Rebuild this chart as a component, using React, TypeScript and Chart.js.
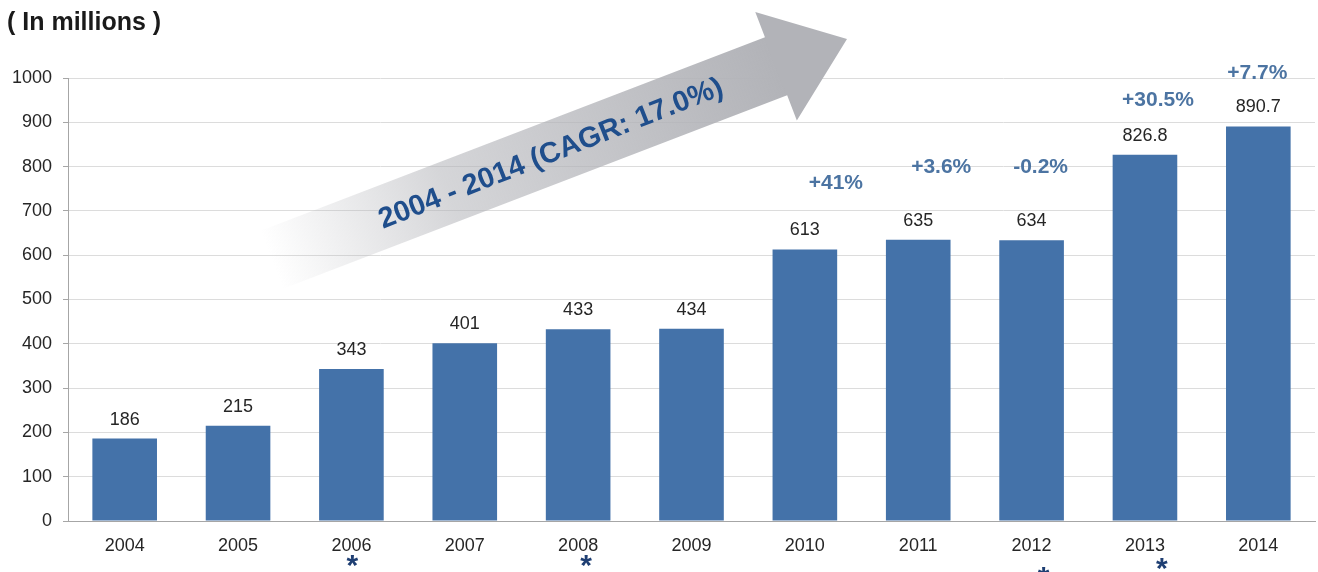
import React, { useEffect, useRef } from "react";
import { Chart, registerables } from "chart.js";

Chart.register(...registerables);

const years = ["2004", "2005", "2006", "2007", "2008", "2009", "2010", "2011", "2012", "2013", "2014"];
const values = [186, 215, 343, 401, 433, 434, 613, 635, 634, 826.8, 890.7];
const valueLabels = ["186", "215", "343", "401", "433", "434", "613", "635", "634", "826.8", "890.7"];
const growthYears = ["2010", "2011", "2012", "2013", "2014"];
const growthLabels = ["+41%", "+3.6%", "-0.2%", "+30.5%", "+7.7%"];
const starYears = ["2006", "2008", "2012", "2013"];
const yTicks = [0, 100, 200, 300, 400, 500, 600, 700, 800, 900, 1000];
const titleText = "( In millions )";
const cagrText = "2004 - 2014 (CAGR: 17.0%)";

// layout for annotations (value-space y, pixel x offset)
const growthLayout = [
  { dx: 31, yVal: 763 },
  { dx: 23, yVal: 799 },
  { dx: 9, yVal: 799 },
  { dx: 13, yVal: 950 },
  { dx: -1, yVal: 1011 },
];
const starLayout = [
  { dx: 1, dy: 38 },
  { dx: 8, dy: 38 },
  { dx: 12, dy: 50 },
  { dx: 17, dy: 41 },
];

const FONT = "Arial, 'Liberation Sans', sans-serif";
const BAR = "#4472A9";
const TXT = "#262626";

const annotationPlugin = {
  id: "annotations",
  beforeDatasetsDraw(chart: any) {
    const ctx = chart.ctx;
    // Arrow
    const tipX = 847, tipY = 39;
    const ang = (-21 * Math.PI) / 180;
    const headLen = 76, headHalf = 58, shaftHalf = 31, shaftLen = 540;
    ctx.save();
    ctx.translate(tipX, tipY);
    ctx.rotate(ang);
    const grad = ctx.createLinearGradient(-headLen - shaftLen, 0, -headLen, 0);
    grad.addColorStop(0, "rgba(178,179,184,0)");
    grad.addColorStop(0.35, "rgba(178,179,184,0.55)");
    grad.addColorStop(1, "rgba(178,179,184,1)");
    ctx.fillStyle = grad;
    ctx.beginPath();
    ctx.moveTo(0, 0);
    ctx.lineTo(-headLen, -headHalf);
    ctx.lineTo(-headLen, -shaftHalf);
    ctx.lineTo(-headLen - shaftLen, -shaftHalf);
    ctx.lineTo(-headLen - shaftLen, shaftHalf);
    ctx.lineTo(-headLen, shaftHalf);
    ctx.lineTo(-headLen, headHalf);
    ctx.closePath();
    ctx.fill();
    ctx.restore();

    // CAGR text
    ctx.save();
    ctx.translate(551, 154);
    ctx.rotate((-21.5 * Math.PI) / 180);
    ctx.font = "bold 29px " + FONT;
    ctx.fillStyle = "#1F4E8C";
    ctx.textAlign = "center";
    ctx.textBaseline = "middle";
    ctx.fillText(cagrText, 0, 0);
    ctx.restore();
  },
  afterDatasetsDraw(chart: any) {
    const ctx = chart.ctx;
    const xs = chart.scales.x;
    const ys = chart.scales.y;
    const meta = chart.getDatasetMeta(0);
    ctx.save();
    // value labels
    ctx.font = "18px " + FONT;
    ctx.fillStyle = TXT;
    ctx.textAlign = "center";
    ctx.textBaseline = "middle";
    meta.data.forEach((bar: any, i: number) => {
      ctx.fillText(valueLabels[i], bar.x, bar.y - 19);
    });
    // growth labels
    ctx.font = "bold 21px " + FONT;
    ctx.fillStyle = "#4C74A2";
    growthYears.forEach((yr, i) => {
      const x = xs.getPixelForValue(years.indexOf(yr)) + growthLayout[i].dx;
      const y = ys.getPixelForValue(growthLayout[i].yVal);
      ctx.fillText(growthLabels[i], x, y);
    });
    // stars
    ctx.font = "bold 30px " + FONT;
    ctx.fillStyle = "#1F3F73";
    starYears.forEach((yr, i) => {
      const x = xs.getPixelForValue(years.indexOf(yr)) + starLayout[i].dx;
      const y = ys.bottom + starLayout[i].dy;
      ctx.fillText("*", x, y + 8);
    });
    // title
    ctx.font = "bold 25px " + FONT;
    ctx.fillStyle = "#1a1a1a";
    ctx.textAlign = "left";
    ctx.fillText(titleText, 7, 23);
    ctx.restore();
  },
};

export default function App() {
  const ref = useRef<HTMLCanvasElement>(null);
  useEffect(() => {
    document.body.style.margin = "0";
    const chart = new Chart(ref.current as HTMLCanvasElement, {
      type: "bar",
      data: {
        labels: years,
        datasets: [
          {
            data: values,
            backgroundColor: BAR,
            barPercentage: 0.57,
            categoryPercentage: 1,
          },
        ],
      },
      options: {
        animation: false,
        responsive: false,
        maintainAspectRatio: false,
        layout: { padding: { left: 0, right: 3, top: 78, bottom: 0 } },
        plugins: { legend: { display: false }, tooltip: { enabled: false }, title: { display: false } },
        scales: {
          x: {
            grid: { display: false, drawTicks: false },
            border: { display: true, color: "#a6a6a6", width: 1 },
            ticks: { color: TXT, font: { family: FONT, size: 18 }, padding: 14, maxRotation: 0 },
            afterFit: (s: any) => { s.height = 51; },
          },
          y: {
            min: 0,
            max: 1000,
            afterBuildTicks: (s: any) => { s.ticks = yTicks.map((v) => ({ value: v })); },
            grid: { color: "#dcdcdc", tickLength: 5, tickColor: "#a6a6a6" },
            border: { display: true, color: "#a6a6a6", width: 1 },
            ticks: { color: TXT, font: { family: FONT, size: 18 }, padding: 11, callback: (v: any) => String(v) },
            afterFit: (s: any) => { s.width = 68; },
          },
        },
      },
      plugins: [annotationPlugin],
    });
    return () => chart.destroy();
  }, []);
  return (
    <div style={{ width: 1318, height: 572, background: "#fff" }}>
      <canvas ref={ref} width={1318} height={572} style={{ display: "block" }} />
    </div>
  );
}
